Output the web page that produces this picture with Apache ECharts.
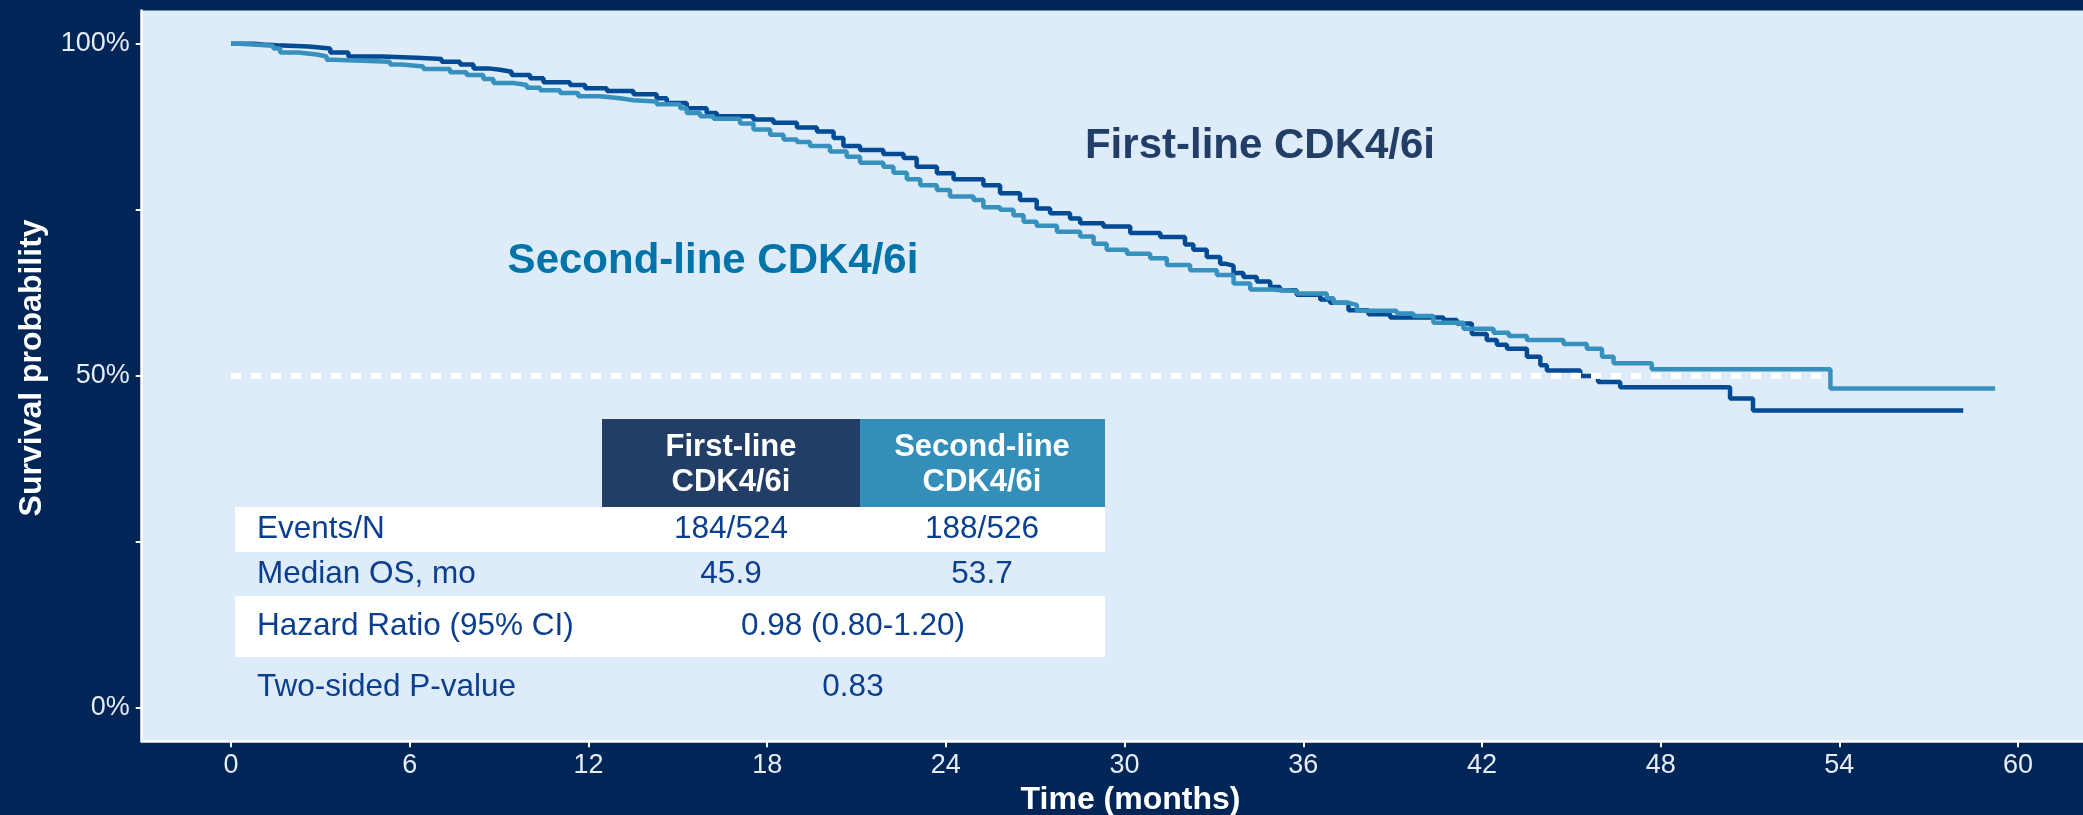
<!DOCTYPE html>
<html>
<head>
<meta charset="utf-8">
<title>Overall survival by line of CDK4/6i</title>
<script src="https://cdn.jsdelivr.net/npm/echarts/dist/echarts.min.js"></script>
<style>
  html, body { margin: 0; padding: 0; background: #002557; }
  #chart { width: 2083px; height: 815px; }
</style>
</head>
<body>
<div id="chart"></div>
<script>
// Kaplan-Meier step points: time (months) where survival changes, and survival after that change
const firstTime = [0, 0.75, 1.09, 1.53, 2.6, 3.33, 3.94, 5.06, 6.23, 7.07, 7.69, 8.14, 8.64, 9.03, 9.42, 10.04, 10.49, 11.38, 11.89, 12.62, 13.51, 14.29, 14.63, 15.3, 15.97, 16.31, 17.54, 18.21, 19.0, 19.67, 20.23, 20.56, 21.12, 21.9, 22.58, 23.02, 23.7, 24.26, 25.26, 25.82, 26.49, 27.05, 27.5, 28.17, 28.51, 29.29, 30.19, 31.2, 32.03, 32.31, 32.76, 33.21, 33.38, 33.66, 33.99, 34.44, 34.89, 35.22, 35.78, 36.57, 36.9, 37.52, 38.19, 38.92, 40.71, 41.16, 41.66, 42.16, 42.5, 42.84, 43.51, 43.96, 44.18, 45.3, 45.9, 46.64, 50.33, 51.1, 58.16];
const firstSurv = [1.0, 0.999, 0.998, 0.996, 0.993, 0.987, 0.981, 0.979, 0.977, 0.973, 0.969, 0.963, 0.961, 0.958, 0.953, 0.948, 0.942, 0.938, 0.933, 0.929, 0.924, 0.918, 0.911, 0.903, 0.896, 0.891, 0.886, 0.881, 0.874, 0.868, 0.858, 0.846, 0.840, 0.834, 0.828, 0.815, 0.805, 0.796, 0.787, 0.775, 0.765, 0.752, 0.745, 0.737, 0.730, 0.725, 0.715, 0.709, 0.698, 0.690, 0.679, 0.669, 0.666, 0.655, 0.649, 0.642, 0.634, 0.629, 0.622, 0.615, 0.610, 0.599, 0.593, 0.588, 0.584, 0.579, 0.563, 0.554, 0.547, 0.541, 0.529, 0.516, 0.508, 0.500, 0.491, 0.483, 0.466, 0.448, 0.448];

const secondTime = [0, 0.30, 1.42, 1.65, 2.26, 2.88, 3.21, 3.44, 5.34, 5.73, 6.46, 7.35, 7.91, 8.47, 8.81, 9.48, 9.93, 10.38, 11.05, 11.66, 12.39, 13.06, 13.51, 14.29, 15.08, 15.3, 15.75, 16.2, 17.09, 17.54, 18.1, 18.55, 19.0, 19.44, 20.11, 20.67, 21.12, 21.9, 22.24, 22.69, 23.14, 23.7, 24.14, 24.93, 25.26, 25.82, 26.27, 26.61, 27.05, 27.73, 28.51, 28.96, 29.4, 30.08, 30.86, 31.42, 32.2, 33.1, 33.66, 34.22, 34.89, 35.78, 36.79, 37.02, 37.52, 37.8, 39.14, 39.7, 40.37, 41.38, 42.39, 42.9, 43.51, 44.74, 45.52, 46.03, 46.42, 47.7, 53.7, 59.23];
const secondSurv = [1.0, 0.997, 0.993, 0.987, 0.984, 0.981, 0.976, 0.973, 0.969, 0.966, 0.962, 0.957, 0.953, 0.947, 0.941, 0.938, 0.934, 0.930, 0.926, 0.921, 0.918, 0.915, 0.913, 0.909, 0.903, 0.896, 0.891, 0.887, 0.880, 0.871, 0.863, 0.856, 0.852, 0.846, 0.838, 0.830, 0.821, 0.815, 0.806, 0.796, 0.787, 0.780, 0.770, 0.765, 0.754, 0.750, 0.742, 0.732, 0.726, 0.717, 0.710, 0.699, 0.690, 0.684, 0.677, 0.667, 0.659, 0.652, 0.639, 0.630, 0.628, 0.624, 0.617, 0.610, 0.607, 0.598, 0.594, 0.590, 0.580, 0.571, 0.565, 0.560, 0.554, 0.548, 0.541, 0.529, 0.519, 0.510, 0.481, 0.481];

// Medians (months) and the reference survival level
const medianFirst = 45.9;
const medianSecond = 53.7;
const medianLevel = 0.5;

// Axis ticks
const xTicks = [0, 6, 12, 18, 24, 30, 36, 42, 48, 54, 60];
const yTicks = [0, 0.25, 0.5, 0.75, 1];
const yLabelTicks = [0, 0.5, 1];

// Summary table
const groupNames = ['First-line CDK4/6i', 'Second-line CDK4/6i'];
const headerLines = [['First-line', 'CDK4/6i'], ['Second-line', 'CDK4/6i']];
const rowLabels = ['Events/N', 'Median OS, mo', 'Hazard Ratio (95% CI)', 'Two-sided P-value'];
const firstColumn = ['184/524', '45.9', null, null];
const secondColumn = ['188/526', '53.7', null, null];
const sharedColumn = [null, null, '0.98 (0.80-1.20)', '0.83'];

// Palette
const BG = '#002557';
const PANEL = '#deebf8';
const FIRST_LINE = '#004b93';
const SECOND_LINE = '#3791be';
const HEAD_FIRST = '#233e66';
const HEAD_SECOND = '#338fba';
const TABLE_TEXT = '#0a3f8f';
const FONT = '"Liberation Sans", Arial, Helvetica, sans-serif';

function pairs(ts, ss) { return ts.map((t, i) => [t, ss[i]]); }

const chart = echarts.init(document.getElementById('chart'), null, { renderer: 'canvas' });

// Table layout (pixels)
const tbl = {
  labelX: 257, col1X: 731, col2X: 982, sharedX: 853,
  left: 235, right: 1105, colSplit: 860, headLeft: 602,
  headTop: 419, headBottom: 507,
  rows: [[507, 552], [552, 596], [596, 657], [657, 717]],
  whiteRows: [0, 2]
};

const graphics = [];
tbl.whiteRows.forEach(r => {
  graphics.push({ type: 'rect', shape: { x: tbl.left, y: tbl.rows[r][0], width: tbl.right - tbl.left, height: tbl.rows[r][1] - tbl.rows[r][0] }, style: { fill: '#ffffff' }, z: 10 });
});
graphics.push({ type: 'rect', shape: { x: tbl.headLeft, y: tbl.headTop, width: tbl.colSplit - tbl.headLeft, height: tbl.headBottom - tbl.headTop }, style: { fill: HEAD_FIRST }, z: 10 });
graphics.push({ type: 'rect', shape: { x: tbl.colSplit, y: tbl.headTop, width: tbl.right - tbl.colSplit, height: tbl.headBottom - tbl.headTop }, style: { fill: HEAD_SECOND }, z: 10 });
[tbl.col1X, tbl.col2X].forEach((cx, i) => {
  headerLines[i].forEach((line, j) => {
    graphics.push({ type: 'text', x: cx, y: 447 + j * 35, z: 11,
      style: { text: line, fill: '#ffffff', font: 'bold 31px ' + FONT, align: 'center', verticalAlign: 'middle', textAlign: 'center', textVerticalAlign: 'middle' } });
  });
});
rowLabels.forEach((lab, r) => {
  const cy = (tbl.rows[r][0] + tbl.rows[r][1]) / 2;
  const cells = [[tbl.labelX, lab, 'left'], [tbl.col1X, firstColumn[r], 'center'], [tbl.col2X, secondColumn[r], 'center'], [tbl.sharedX, sharedColumn[r], 'center']];
  cells.forEach(([x, txt, al]) => {
    if (txt == null) return;
    graphics.push({ type: 'text', x: x, y: cy, z: 11,
      style: { text: txt, fill: TABLE_TEXT, font: '31.5px ' + FONT, align: al, verticalAlign: 'middle', textAlign: al, textVerticalAlign: 'middle' } });
  });
});

// Curve labels
graphics.push({ type: 'text', x: 1260, y: 146, z: 11,
  style: { text: groupNames[0], fill: HEAD_FIRST, font: 'bold 42px ' + FONT, align: 'center', verticalAlign: 'middle', textAlign: 'center', textVerticalAlign: 'middle' } });
graphics.push({ type: 'text', x: 713, y: 261, z: 11,
  style: { text: groupNames[1], fill: '#0073a8', font: 'bold 42px ' + FONT, align: 'center', verticalAlign: 'middle', textAlign: 'center', textVerticalAlign: 'middle' } });

const option = {
  backgroundColor: BG,
  animation: false,
  grid: {
    show: true, backgroundColor: PANEL, borderWidth: 0,
    left: 141.7, top: 10.6, right: -24.4, bottom: 73.8,
    containLabel: false, outerBoundsMode: 'none'
  },
  xAxis: {
    type: 'value', min: -3, max: 63,
    name: 'Time (months)', nameLocation: 'middle', nameGap: 42,
    nameTextStyle: { color: '#ffffff', fontFamily: FONT, fontWeight: 'bold', fontSize: 32, padding: [0, 0, 0, 12] },
    axisLine: { show: true, onZero: false, lineStyle: { color: '#ffffff', width: 2.5 } },
    axisTick: { show: true, length: 6, customValues: xTicks, lineStyle: { color: '#ffffff', width: 2 } },
    axisLabel: { customValues: xTicks, color: '#e6edf7', fontFamily: FONT, fontSize: 27, margin: 11 },
    splitLine: { show: false }
  },
  yAxis: {
    type: 'value', min: -0.05, max: 1.05,
    name: 'Survival probability', nameLocation: 'middle', nameGap: 94, nameRotate: 90,
    nameTextStyle: { color: '#ffffff', fontFamily: FONT, fontWeight: 'bold', fontSize: 32, padding: [0, 0, 0, 16] },
    axisLine: { show: true, onZero: false, lineStyle: { color: '#ffffff', width: 2.5 } },
    axisTick: { show: true, length: 6, customValues: yTicks, lineStyle: { color: '#ffffff', width: 2 } },
    axisLabel: { customValues: yLabelTicks, color: '#e6edf7', fontFamily: FONT, fontSize: 27, margin: 12,
      formatter: v => Math.round(v * 100) + '%' },
    splitLine: { show: false }
  },
  series: [
    {
      name: groupNames[0], type: 'line', step: 'end', showSymbol: false, symbol: 'none',
      data: pairs(firstTime, firstSurv),
      lineStyle: { color: FIRST_LINE, width: 4.5 }, z: 3
    },
    {
      name: groupNames[1], type: 'line', step: 'end', showSymbol: false, symbol: 'none',
      data: pairs(secondTime, secondSurv),
      lineStyle: { color: SECOND_LINE, width: 4.5 }, z: 4
    },
    {
      name: 'median', type: 'line', showSymbol: false, symbol: 'none', silent: true,
      data: [[0, medianLevel], [Math.max(medianFirst, medianSecond), medianLevel]],
      lineStyle: { color: '#ffffff', width: 6, type: [10, 10], cap: 'butt' }, z: 5
    }
  ],
  graphic: graphics
};

chart.setOption(option);
</script>
</body>
</html>
